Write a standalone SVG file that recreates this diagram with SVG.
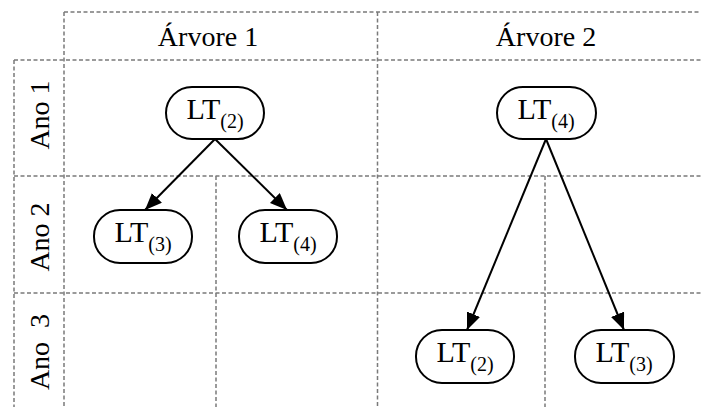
<svg xmlns="http://www.w3.org/2000/svg" width="701" height="407" viewBox="0 0 701 407">
<defs>
<style>
.grid{stroke:#7a7a7a;stroke-width:1.5;stroke-dasharray:4 2.5;fill:none}
.node{fill:#fff;stroke:#000;stroke-width:2}
.lbl{font-family:"Liberation Serif","Times New Roman",serif;font-size:28px;fill:#000}
.lt{font-family:"Liberation Serif","Times New Roman",serif;font-size:30px;fill:#000}
.sub{font-size:20px}
.edge{stroke:#000;stroke-width:2;fill:none}
</style>
<marker id="arr" markerUnits="userSpaceOnUse" markerWidth="19" markerHeight="16" refX="17" refY="7" orient="auto">
<path d="M0,0 L17,7 L0,14 z" fill="#000"/>
</marker>
</defs>
<rect width="701" height="407" fill="#fff"/>
<g id="grid">
<line class="grid" x1="64" y1="12" x2="701" y2="12"/>
<line class="grid" x1="14" y1="60" x2="701" y2="60"/>
<line class="grid" x1="14" y1="176" x2="701" y2="176"/>
<line class="grid" x1="14" y1="293" x2="701" y2="293"/>
<line class="grid" x1="14" y1="60" x2="14" y2="407"/>
<line class="grid" x1="64" y1="12" x2="64" y2="407"/>
<line class="grid" x1="377.5" y1="12" x2="377.5" y2="407"/>
<line class="grid" x1="216" y1="176" x2="216" y2="407"/>
<line class="grid" x1="545" y1="176" x2="545" y2="407"/>
</g>
<g id="headers">
<text class="lbl" x="208" y="46" text-anchor="middle">Árvore 1</text>
<text class="lbl" x="546" y="46" text-anchor="middle">Árvore 2</text>
<text class="lbl" transform="translate(49,115) rotate(-90)" text-anchor="middle">Ano 1</text>
<text class="lbl" transform="translate(49,237) rotate(-90)" text-anchor="middle">Ano 2</text>
<text class="lbl" transform="translate(49,352) rotate(-90)" text-anchor="middle" style="white-space:pre" xml:space="preserve">Ano  3</text>
</g>
<g id="connectors">
<line class="edge" x1="215" y1="139" x2="145" y2="210" marker-end="url(#arr)"/>
<line class="edge" x1="215" y1="139" x2="287" y2="210" marker-end="url(#arr)"/>
<line class="edge" x1="546" y1="139" x2="467" y2="330" marker-end="url(#arr)"/>
<line class="edge" x1="546" y1="139" x2="624" y2="330" marker-end="url(#arr)"/>
</g>
<g id="n1">
<rect class="node" x="166" y="87" width="98" height="52" rx="26"/>
<text class="lt" x="215" y="119" text-anchor="middle">LT<tspan class="sub" dy="9">(2)</tspan></text>
</g>
<g id="n2">
<rect class="node" x="497" y="87" width="99" height="52" rx="26"/>
<text class="lt" x="546" y="119" text-anchor="middle">LT<tspan class="sub" dy="9">(4)</tspan></text>
</g>
<g id="n3">
<rect class="node" x="94" y="210" width="98" height="53" rx="26"/>
<text class="lt" x="143" y="242" text-anchor="middle">LT<tspan class="sub" dy="9">(3)</tspan></text>
</g>
<g id="n4">
<rect class="node" x="239" y="210" width="98" height="53" rx="26"/>
<text class="lt" x="288" y="242" text-anchor="middle">LT<tspan class="sub" dy="9">(4)</tspan></text>
</g>
<g id="n5">
<rect class="node" x="416" y="330" width="98" height="53" rx="26"/>
<text class="lt" x="465" y="362" text-anchor="middle">LT<tspan class="sub" dy="9">(2)</tspan></text>
</g>
<g id="n6">
<rect class="node" x="575" y="330" width="99" height="53" rx="26"/>
<text class="lt" x="624" y="362" text-anchor="middle">LT<tspan class="sub" dy="9">(3)</tspan></text>
</g>
</svg>
